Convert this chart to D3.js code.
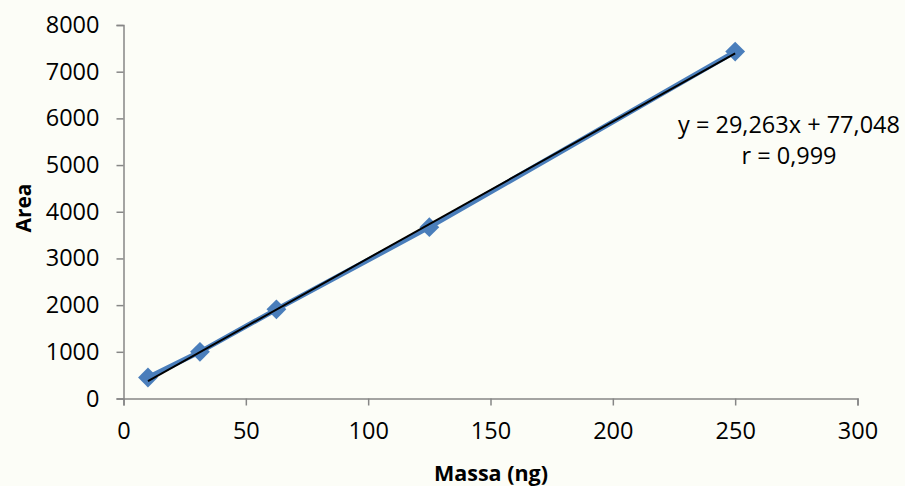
<!DOCTYPE html>
<html>
<head>
<meta charset="utf-8">
<script src="https://cdn.jsdelivr.net/npm/d3@7"></script>
<style>
html,body{margin:0;padding:0;background:#fcfdf7;}
svg{display:block;}
text{font-family:"Open Sans","Liberation Sans",sans-serif;fill:#000;}
</style>
</head>
<body>
<svg id="chart" width="905" height="486"></svg>
<script>
const massa = [10, 31.25, 62.5, 125, 250];
const area = [450, 1000, 1910, 3670, 7430];
const xTicks = [0, 50, 100, 150, 200, 250, 300];
const yTicks = [0, 1000, 2000, 3000, 4000, 5000, 6000, 7000, 8000];
const trendCoef = [29.263, 77.048];
const trendRange = [10, 250];
const eqLines = ["y = 29,263x + 77,048", "r = 0,999"];

const svg = d3.select("#chart");
const x = d3.scaleLinear().domain([0, 300]).range([123.5, 857.5]);
const y = d3.scaleLinear().domain([0, 8000]).range([398.5, 25]);
const axisColor = "#868686";

const gx = svg.append("g").attr("transform", `translate(0,${y(0)})`)
  .call(d3.axisBottom(x).tickValues(xTicks).tickSize(7).tickPadding(17).tickFormat(d3.format("d")));
const gy = svg.append("g").attr("transform", `translate(${x(0)},0)`)
  .call(d3.axisLeft(y).tickValues(yTicks).tickSize(7).tickPadding(17).tickFormat(d3.format("d")));
[gx, gy].forEach(g => {
  g.select(".domain").attr("stroke", axisColor).attr("stroke-width", 1.5);
  g.selectAll(".tick line").attr("stroke", axisColor).attr("stroke-width", 1.5);
  g.selectAll(".tick text").attr("font-size", 23.5).attr("font-family", "Open Sans").attr("fill", "#000");
});

const pts = massa.map((m, i) => [m, area[i]]);
svg.append("path").datum(pts)
  .attr("fill", "none").attr("stroke", "#4a7ebb").attr("stroke-width", 5)
  .attr("d", d3.line().x(d => x(d[0])).y(d => y(d[1])));

svg.selectAll(".pt").data(pts).enter().append("path")
  .attr("class", "pt")
  .attr("transform", d => `translate(${x(d[0])},${y(d[1])})`)
  .attr("d", d3.symbol().type(d3.symbolDiamond2).size(250))
  .attr("fill", "#4a7ebb");

const tl = trendRange.map(v => [v, trendCoef[0] * v + trendCoef[1]]);
svg.append("path").datum(tl)
  .attr("fill", "none").attr("stroke", "#000").attr("stroke-width", 2)
  .attr("d", d3.line().x(d => x(d[0])).y(d => y(d[1])));

svg.append("text").attr("x", 789).attr("y", 133).attr("text-anchor", "middle")
  .attr("font-size", 23.5).text(eqLines[0]);
svg.append("text").attr("x", 789).attr("y", 164).attr("text-anchor", "middle")
  .attr("font-size", 23.5).text(eqLines[1]);

svg.append("text").attr("transform", "translate(31,208) rotate(-90)")
  .attr("text-anchor", "middle").attr("font-size", 21).attr("font-weight", "bold").text("Area");
svg.append("text").attr("x", 491).attr("y", 481)
  .attr("text-anchor", "middle").attr("font-size", 21.5).attr("font-weight", "bold").text("Massa (ng)");
</script>
</body>
</html>
